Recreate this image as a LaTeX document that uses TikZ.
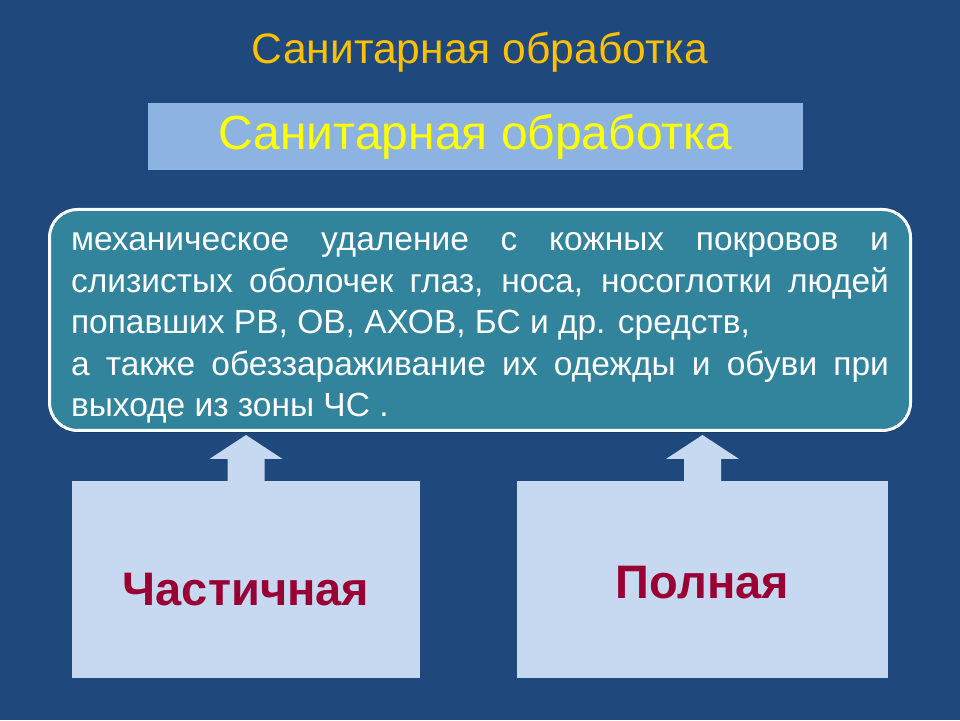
\documentclass[tikz,border=0pt]{standalone}
\usepackage{fontspec}
\setmainfont{Liberation Sans}
\usetikzlibrary{positioning,calc,shadows}

\definecolor{slidebg}{HTML}{1F497D}
\definecolor{titlegold}{HTML}{FFC000}
\definecolor{headblue}{HTML}{8DB3E2}
\definecolor{headyellow}{HTML}{FFFF00}
\definecolor{defteal}{HTML}{31849B}
\definecolor{kindblue}{HTML}{C6D9F1}
\definecolor{kindred}{HTML}{990033}

\tikzset{
  titletext/.style={text=titlegold, font=\fontsize{42.6}{50}\selectfont},
  headbox/.style={fill=headblue, text=headyellow, minimum width=655pt, minimum height=67pt,
    inner sep=0pt, font=\fontsize{48}{56}\selectfont},
  defbox/.style={draw=white, line width=3pt, fill=defteal, rounded corners=28pt,
    minimum width=861pt, minimum height=221pt, inner sep=0pt,
    drop shadow={shadow xshift=0pt, shadow yshift=-2pt, opacity=.45, fill=black}},
  deftext/.style={text=white, text width=818pt, align=justify, inner sep=0pt,
    font=\fontsize{33.5}{41.5}\selectfont},
  kindbox/.style={fill=kindblue, minimum height=197pt, inner sep=0pt},
  kindtext/.style={text=kindred, font=\bfseries\fontsize{47}{56}\selectfont},
  arrowfill/.style={fill=kindblue}
}

% block arrow from the top of #1 up to the bottom of #2
\newcommand{\blockup}[2]{%
  \fill[arrowfill] ($(#1.north)+(-18.5,-1)$) -- ++(0,23) -- ++(-18,0)
    -- ([yshift=-3pt]#2.south -| #1.north) -- ($(#1.north)+(36.5,22)$)
    -- ++(-18,0) -- ++(0,-23) -- cycle;}

\begin{document}
\begin{tikzpicture}[x=1pt,y=1pt]
  \fill[slidebg] (0,0) rectangle (960,720);
  \useasboundingbox (0,0) rectangle (960,720);

  \node[titletext] (title) at (480,668) {Санитарная обработка};
  \node[headbox] (head) at (475.5,583.5) {Санитарная обработка};
  \node[defbox] (def) at (480,400) {};
  \node[deftext] (deftext) at ([yshift=-8pt]def.center) {механическое удаление с кожных покровов и\linebreak
    слизистых оболочек глаз, носа, носоглотки людей\linebreak
    попавших РВ, ОВ, АХОВ, БС и др. средств,\\
    а также обеззараживание их одежды и обуви при\linebreak
    выходе из зоны ЧС .};

  \node[kindbox, minimum width=348pt, below=49pt of def, xshift=-234pt] (part) {};
  \node[kindbox, minimum width=371pt, below=49pt of def, xshift=222.5pt] (full) {};
  \node[kindtext] (parttext) at ([yshift=-10pt]part.center) {Частичная};
  \node[kindtext] (fulltext) at ([yshift=-3pt]full.center) {Полная};

  % Arrows
  \blockup{part}{def}
  \blockup{full}{def}
\end{tikzpicture}
\end{document}
